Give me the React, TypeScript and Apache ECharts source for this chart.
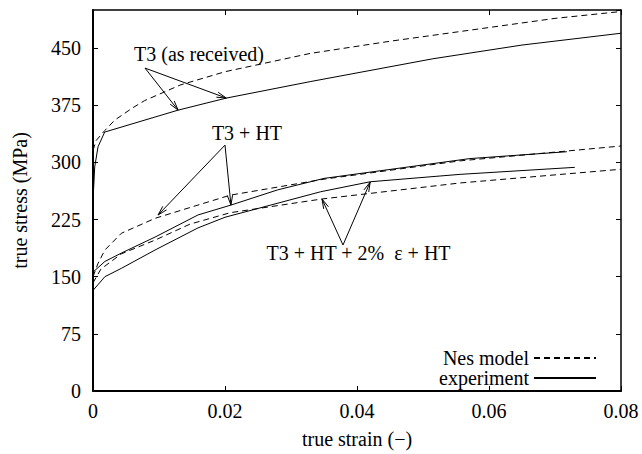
import React, { useEffect, useRef } from "react";
import * as echarts from "echarts";

// ---- data (true strain, true stress MPa) ----
const t3NesStrain = [0, 0.0005, 0.0018, 0.0033, 0.0059, 0.0078, 0.0132, 0.02, 0.0329, 0.045, 0.06, 0.07, 0.08];
const t3NesStress = [316, 329, 342, 355.5, 371, 381, 401.5, 419, 443, 459, 477, 489, 498];

const t3ExpStrain = [0, 0.00026, 0.00076, 0.00177, 0.0129, 0.0202, 0.0329, 0.0515, 0.065, 0.08];
const t3ExpStress = [250, 294, 320.5, 339.8, 368.6, 384.4, 406, 436, 454, 469.5];

const htNesStrain = [0, 0.00076, 0.0018, 0.0043, 0.0094, 0.0159, 0.0208, 0.035, 0.0556, 0.08];
const htNesStress = [150, 167.5, 185, 207, 226.6, 244, 257, 278, 302, 321.5];

const htExpStrain = [0, 0.0018, 0.0043, 0.0094, 0.0159, 0.0209, 0.028, 0.035, 0.0571, 0.0718];
const htExpStress = [156, 170, 181, 202, 231, 244, 264, 279, 305, 314];

const ht2NesStrain = [0, 0.0012, 0.0043, 0.0094, 0.0147, 0.0208, 0.0347, 0.0556, 0.08];
const ht2NesStress = [142, 160, 180, 198, 219, 234, 252, 273, 291];

const ht2ExpStrain = [0, 0.0018, 0.0043, 0.0094, 0.0159, 0.02, 0.0345, 0.042, 0.0556, 0.073];
const ht2ExpStress = [132, 150, 161, 185, 214, 228, 261.5, 274.6, 284.3, 293.5];

const legendNames = ["Nes model", "experiment"];
const xAxisTitle = "true strain (−)";
const yAxisTitle = "true stress (MPa)";

// annotations in data coordinates
const annotations = [
  {
    text: "T3 (as received)",
    at: [0.01606, 442],
    tail: [0.00788, 423.8],
    tips: [
      [0.0129, 368.6],
      [0.0202, 384.4],
    ],
  },
  {
    text: "T3 + HT",
    at: [0.02333, 338.5],
    tail: [0.02, 322.7],
    tips: [
      [0.00985, 230.9],
      [0.0209, 244],
    ],
  },
  {
    text: "T3 + HT + 2%  ε + HT",
    at: [0.04023, 181],
    tail: [0.03788, 191.6],
    tips: [
      [0.0347, 251.9],
      [0.042, 274.2],
    ],
  },
];

const FONT = "'Liberation Serif', 'Times New Roman', 'DejaVu Serif', serif";

const zip = (xs: number[], ys: number[]) => xs.map((x, i) => [x, ys[i]]);

export default function App() {
  const ref = useRef<HTMLDivElement>(null);

  useEffect(() => {
    if (!ref.current) return;
    const chart = echarts.init(ref.current, null, { renderer: "svg" });

    const dashed = { color: "#000", width: 1, type: [6, 4] as any };
    const solid = { color: "#000", width: 1, type: "solid" as any };

    const mk = (name: string, xs: number[], ys: number[], ls: any) => ({
      type: "line",
      name,
      data: zip(xs, ys),
      xAxisIndex: 0,
      yAxisIndex: 0,
      symbol: "none",
      showSymbol: false,
      color: "#000",
      lineStyle: ls,
      silent: true,
    });

    const axisLabelStyle = { color: "#000", fontFamily: FONT, fontSize: 20 };

    const option: any = {
      animation: false,
      backgroundColor: "#fff",
      textStyle: { fontFamily: FONT },
      grid: {
        left: 93,
        right: 21,
        top: 10,
        bottom: 63,
        containLabel: false,
        outerBoundsMode: "none",
      },
      legend: {
        data: legendNames,
        orient: "vertical",
        align: "right",
        right: 45,
        top: 348,
        itemWidth: 62,
        itemHeight: 10,
        itemGap: 0,
        padding: 0,
        selectedMode: false,
        itemStyle: { opacity: 0 },
        textStyle: { ...axisLabelStyle, lineHeight: 19 },
      },
      xAxis: [
        {
          type: "value",
          position: "bottom",
          min: 0,
          max: 0.08,
          interval: 0.02,
          axisLine: { show: true, onZero: false, lineStyle: { color: "#000", width: 2 } },
          axisTick: { show: true, inside: true, length: 5, lineStyle: { color: "#000", width: 1 } },
          axisLabel: {
            ...axisLabelStyle,
            margin: 10,
            formatter: (v: number) => (v === 0 ? "0" : v.toFixed(2)),
          },
          splitLine: { show: false },
          name: xAxisTitle,
          nameLocation: "middle",
          nameGap: 38,
          nameMoveOverlap: false,
          nameTextStyle: axisLabelStyle,
        },
        {
          type: "value",
          position: "top",
          min: 0,
          max: 0.08,
          interval: 0.02,
          axisLine: { show: true, onZero: false, lineStyle: { color: "#000", width: 1.5 } },
          axisTick: { show: true, inside: true, length: 5, lineStyle: { color: "#000", width: 1 } },
          axisLabel: { show: false },
          splitLine: { show: false },
        },
      ],
      yAxis: [
        {
          type: "value",
          position: "left",
          min: 0,
          max: 500,
          interval: 75,
          axisLine: { show: true, onZero: false, lineStyle: { color: "#000", width: 2 } },
          axisTick: { show: true, inside: true, length: 5, lineStyle: { color: "#000", width: 1 } },
          axisLabel: {
            ...axisLabelStyle,
            margin: 12,
            showMaxLabel: false,
            formatter: (v: number) => (v % 75 === 0 ? String(v) : ""),
          },
          splitLine: { show: false },
          name: yAxisTitle,
          nameLocation: "middle",
          nameGap: 63,
          nameMoveOverlap: false,
          nameTextStyle: axisLabelStyle,
        },
        {
          type: "value",
          position: "right",
          min: 0,
          max: 500,
          interval: 75,
          axisLine: { show: true, onZero: false, lineStyle: { color: "#000", width: 1.5 } },
          axisTick: { show: true, inside: true, length: 5, lineStyle: { color: "#000", width: 1 } },
          axisLabel: { show: false },
          splitLine: { show: false },
        },
      ],
      series: [
        mk("Nes model", t3NesStrain, t3NesStress, dashed),
        mk("experiment", t3ExpStrain, t3ExpStress, solid),
        mk("Nes model", htNesStrain, htNesStress, dashed),
        mk("experiment", htExpStrain, htExpStress, solid),
        mk("Nes model", ht2NesStrain, ht2NesStress, dashed),
        mk("experiment", ht2ExpStrain, ht2ExpStress, solid),
      ],
    };

    chart.setOption(option);

    const toPx = (p: number[]) =>
      chart.convertToPixel({ xAxisIndex: 0, yAxisIndex: 0 } as any, p) as number[];

    const graphics: any[] = [];
    const headLen = 10;
    const headAng = (15 * Math.PI) / 180;
    annotations.forEach((a) => {
      const c = toPx(a.at);
      graphics.push({
        type: "text",
        x: c[0],
        y: c[1],
        silent: true,
        style: {
          text: a.text,
          fill: "#000",
          fontFamily: FONT,
          fontSize: 20,
          align: "center",
          verticalAlign: "middle",
        },
      });
      const f = toPx(a.tail);
      a.tips.forEach((tp) => {
        const t = toPx(tp);
        graphics.push({
          type: "line",
          silent: true,
          shape: { x1: f[0], y1: f[1], x2: t[0], y2: t[1] },
          style: { stroke: "#000", lineWidth: 1 },
        });
        const dx = t[0] - f[0];
        const dy = t[1] - f[1];
        const L = Math.hypot(dx, dy);
        const ux = dx / L;
        const uy = dy / L;
        const rot = (ang: number) => [
          t[0] - headLen * (ux * Math.cos(ang) - uy * Math.sin(ang)),
          t[1] - headLen * (ux * Math.sin(ang) + uy * Math.cos(ang)),
        ];
        graphics.push({
          type: "polyline",
          silent: true,
          shape: { points: [rot(headAng), [t[0], t[1]], rot(-headAng)] },
          style: { stroke: "#000", lineWidth: 1, fill: "none" },
        });
      });
    });

    chart.setOption({ graphic: graphics });

    return () => chart.dispose();
  }, []);

  return (
    <div
      ref={ref}
      style={{ position: "absolute", left: 0, top: 0, width: 642, height: 454, background: "#fff" }}
    />
  );
}
